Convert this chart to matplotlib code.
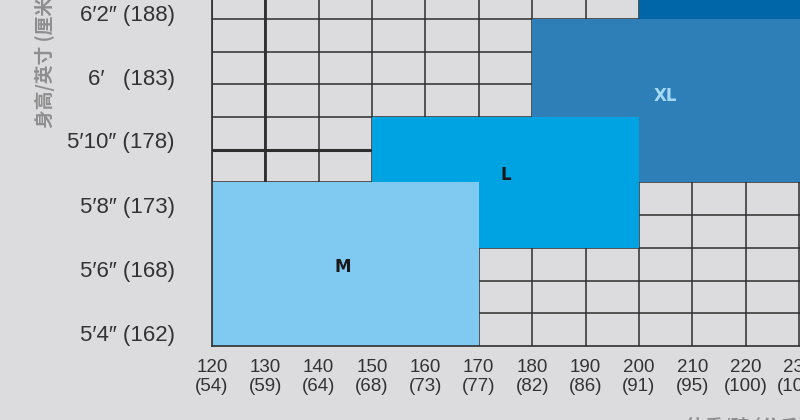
import matplotlib
matplotlib.use("Agg")
import matplotlib.pyplot as plt
from matplotlib.patches import Rectangle

# weight ticks (lb) and their kg values
weights_lb = [120, 130, 140, 150, 160, 170, 180, 190, 200, 210, 220, 230]
weights_kg = [54, 59, 64, 68, 73, 77, 82, 86, 91, 95, 100, 104]

# height rows (1 row = 1 inch, row 0 = 5'4")
height_rows = [0.4, 2.35, 4.3, 6.3, 8.23, 10.18]
height_labels = ["5′4″ (162)", "5′6″ (168)", "5′8″ (173)",
                 "5′10″ (178)", "6′   (183)", "6′2″ (188)"]
n_rows = 11

# size boxes, drawn back to front
sizes = ["XXL", "XL", "L", "M"]
lb_from = [200, 180, 150, 120]
lb_to = [240, 240, 200, 170]
row_from = [10, 5, 3, 0]
row_to = [13, 10, 7, 5]
colors = ["#0066a8", "#2e7fb7", "#00a3e1", "#80c9f0"]
label_x = [None, 205, 175, 144.5]
label_y = [None, 7.65, 5.23, 2.42]
label_color = [None, "#a6daf4", "#1a1a1a", "#1a1a1a"]

bg = "#dcdcde"
line_col = "#2e2e2e"

fig = plt.figure(figsize=(8, 4.2), dpi=100, facecolor=bg)
ax = fig.add_axes([212 / 800, 74 / 420, 588 / 800, 346 / 420])
ax.set_facecolor(bg)
ax.set_xlim(120, 230.2)
ax.set_ylim(0, 10.58)

# grid lines under the boxes
ax.vlines(weights_lb, 0, 14, color=line_col, lw=1.1, zorder=1)
ax.hlines(range(1, n_rows + 2), 120, 240, color=line_col, lw=1.1, zorder=1)
# the two heavier strokes in the original
ax.vlines(130, 5, 14, color=line_col, lw=2.0, zorder=1)
ax.hlines(6, 120, 150, color=line_col, lw=2.2, zorder=1)

for i, s in enumerate(sizes):
    ax.add_patch(Rectangle((lb_from[i], row_from[i]), lb_to[i] - lb_from[i],
                           row_to[i] - row_from[i], facecolor=colors[i],
                           edgecolor="none", zorder=2 + i))
    if label_x[i] is not None:
        ax.text(label_x[i], label_y[i], s, ha="center", va="center",
                fontsize=12, fontweight="bold", color=label_color[i],
                family="DejaVu Sans", zorder=10)

for side in ["top", "right"]:
    ax.spines[side].set_visible(False)
for side in ["left", "bottom"]:
    ax.spines[side].set_color(line_col)
    ax.spines[side].set_linewidth(1.2)
    ax.spines[side].set_zorder(9)

ax.set_xticks(weights_lb)
ax.set_xticklabels([f"{a}\n({b})" for a, b in zip(weights_lb, weights_kg)],
                   fontsize=13.5, family="Liberation Sans", color="#333333",
                   linespacing=1.2)
ax.set_yticks(height_rows)
ax.set_yticklabels(height_labels, fontsize=16, family="Liberation Sans",
                   color="#333333")
ax.tick_params(axis="x", length=0, pad=9)
ax.tick_params(axis="y", length=0, pad=27)

fig.text(45 / 800, (420 - 128) / 420, "身高/英寸 (厘米)", rotation=90,
         ha="center", va="bottom", fontsize=13.5, fontweight="bold",
         color="#8e8e8e", family=["Noto Sans CJK SC", "DejaVu Sans"])
fig.text(686 / 800, (420 - 417) / 420, "体重/磅 (公斤)", ha="left", va="top",
         fontsize=13.5, fontweight="bold", color="#8e8e8e",
         family=["Noto Sans CJK SC", "DejaVu Sans"])

fig.savefig("out.png", dpi=100, facecolor=bg)
